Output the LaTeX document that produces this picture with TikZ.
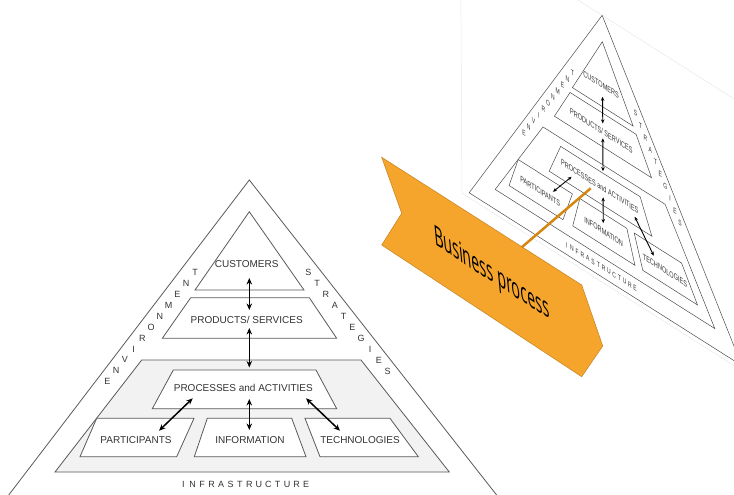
\documentclass[tikz,border=0pt]{standalone}
\usepackage{fontspec}
\setmainfont{Liberation Sans}
\newfontfamily\bannerfont{Open Sans}
\usetikzlibrary{arrows.meta}

\definecolor{pyrline}{HTML}{5A5A5A}
\definecolor{pyrtext}{HTML}{333333}
\definecolor{bandfill}{HTML}{F2F2F2}
\definecolor{bannerorange}{HTML}{F5A52C}
\definecolor{bannerrim}{HTML}{C98A2A}
\definecolor{linkorange}{HTML}{D4870F}

\tikzset{
  edge/.style={draw=pyrline, line width=0.8pt, line join=miter},
  lbl/.style={text=pyrtext, font=\fontsize{10}{12}\selectfont, inner sep=0pt},
  lett/.style={text=pyrtext, font=\fontsize{9}{10}\selectfont, inner sep=0pt},
  link/.style={draw=black, line width=1.5pt,
    {Stealth[length=6.5pt,width=5.5pt]}-{Stealth[length=6.5pt,width=5.5pt]}},
  bannertext/.style={font=\bannerfont\fontsize{20}{24}\selectfont, text=black, inner sep=0pt},
}

% The business-process pyramid, drawn in pixel units (y grows downwards).
% #1 = name prefix, #2 = fill of the infrastructure band
\newcommand\bpyramid[2]{%
  \path[edge, fill=white] (249.3,180) -- (8,496) -- (497.4,496) -- cycle;
  \path[edge, fill=white] (249.3,211.7) -- (195,290) -- (304,290) -- cycle;
  \path[edge, fill=white] (190.7,297.7) -- (309.3,297.7) -- (336.7,338.3) -- (162.3,338.3) -- cycle;
  \path[edge, fill=#2] (141.7,360) -- (361,360) -- (449.3,472) -- (55,472) -- cycle;
  \path[edge, fill=white] (173.3,370) -- (316,370) -- (336.7,408.7) -- (152.3,408.7) -- cycle;
  \path[edge, fill=white] (96.7,418.3) -- (194,418.3) -- (176.7,456.7) -- (80,456.7) -- cycle;
  \path[edge, fill=white] (207.3,418.3) -- (291.7,418.3) -- (306,456.7) -- (194.3,456.7) -- cycle;
  \path[edge, fill=white] (305,418.3) -- (390,418.3) -- (418.3,456.7) -- (320,456.7) -- cycle;
  % labels
  \node[lbl] (#1cust) at (246.7,264.3) {CUSTOMERS};
  \node[lbl] (#1prod) at (246.7,320) {PRODUCTS/ SERVICES};
  \node[lbl] (#1proc) at (243.3,388.3) {PROCESSES and ACTIVITIES};
  \node[lbl] (#1part) at (136,440) {PARTICIPANTS};
  \node[lbl] (#1info) at (250,440) {INFORMATION};
  \node[lbl] (#1tech) at (360,440) {TECHNOLOGIES};
  % spaced words along the sides and base
  \foreach \ch [count=\i from 0] in {E,N,V,I,R,O,N,M,E,N,T}
    \node[lett] (#1env\i) at ({107.3+8.77*\i},{381.7-10.9*\i}) {\ch};
  \foreach \ch [count=\i from 0] in {S,T,R,A,T,E,G,I,E,S}
    \node[lett] (#1str\i) at ({308.3+8.82*\i},{272.7+10.92*\i}) {\ch};
  \foreach \ch [count=\i from 0] in {I,N,F,R,A,S,T,R,U,C,T,U,R,E}
    \node[lett] (#1inf\i) at ({183.3+9.44*\i},484.3) {\ch};
  % double-headed links
  \coordinate (#1a1) at (249.3,278);   \coordinate (#1b1) at (249.3,310);
  \coordinate (#1a2) at (249.3,328);   \coordinate (#1b2) at (249.3,367.5);
  \coordinate (#1a3) at (249.3,399);   \coordinate (#1b3) at (249.3,430);
  \coordinate (#1a4) at (192.7,398.3); \coordinate (#1b4) at (159,430.7);
  \coordinate (#1a5) at (306,398.3);   \coordinate (#1b5) at (340,430.7);
  \foreach \k in {1,...,5} \draw[link] (#1a\k) -- (#1b\k);
}

\begin{document}
\begin{tikzpicture}[x=1pt, y=-1pt]
  \useasboundingbox (0,0) rectangle (734,495);
  \clip (0,0) rectangle (734,495);

  % main pyramid
  \bpyramid{m}{bandfill}

  % sheared copy at the upper right
  \begin{scope}[shift={(602.3,41.7)}, cm={0.557,-0.353,-0.0044,0.831,(0,0)},
      shift={(-249.3,-211.7)},
      every node/.append style={transform shape},
      edge/.style={draw=black!70, line width=0.5pt, line join=miter},
      link/.style={draw=black, line width=0.9pt,
        {Stealth[length=4pt,width=3.5pt]}-{Stealth[length=4pt,width=3.5pt]}}]
    \draw[gray!18, line width=0.5pt] (-5,180) rectangle (640,502);
    \bpyramid{s}{white}
  \end{scope}

  % banner
  \coordinate (bn1) at (381.7,157.3);
  \coordinate (bn2) at (581.7,285);
  \coordinate (bn3) at (602.7,346);
  \coordinate (bn4) at (581.7,376.7);
  \coordinate (bn5) at (381.7,245);
  \coordinate (bn6) at (401.7,213.3);
  \path[fill=bannerorange, draw=bannerrim, line width=0.6pt]
    (bn1) -- (bn2) -- (bn3) -- (bn4) -- (bn5) -- (bn6) -- cycle;
  \node[bannertext, cm={0.72,-0.467,-0.14,1.42,(0,0)}] (bp) at (492,275) {Business process};

  % link from the banner to the process layer
  \coordinate (bpjoin) at (521.7,247.3);
  \coordinate (bphook) at (590.7,188.3);
  \draw[linkorange, line width=2.5pt] (bpjoin) -- (bphook);
\end{tikzpicture}
\end{document}
